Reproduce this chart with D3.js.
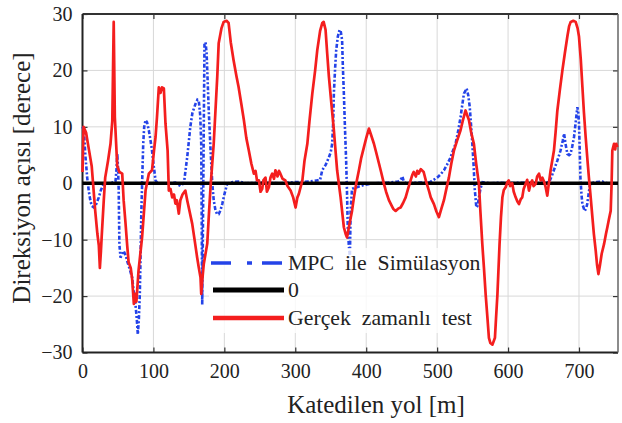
<!DOCTYPE html>
<html><head><meta charset="utf-8">
<script src="https://cdn.jsdelivr.net/npm/d3@7"></script>
<style>
html,body{margin:0;padding:0;background:#fff;}
svg text{font-family:'Liberation Serif','Times New Roman',Times,'DejaVu Serif',serif !important;}
</style></head>
<body><svg id="c" width="622" height="423"></svg>
<script>
// ---- data ----
const xTicks = [0,100,200,300,400,500,600,700];
const yTicks = [-30,-20,-10,0,10,20,30];
const legendLabels = ["MPC  ile  Simülasyon", "0", "Gerçek  zamanlı  test"];
const xLabel = "Katedilen yol [m]";
const yLabel = "Direksiyon açısı [derece]";

const simX = [0,2,4,6.6,9,11,13,16,19,23,26,30,35,39.5,44,46.5,48,49,50,51,52,53.6,56,58,61,63,66,70,72,74.7,76.5,78,79.5,80.8,82,83,84.5,85.6,87,88.9,91,93.5,96,98,100.5,103,106,110,117,124,131,138,143,145,147.6,150,152,155,159.4,162,164,166,167.4,168,168.8,169.5,170,171,172,173.5,175,176.5,178,180.5,183,185,187.6,190,192,194.5,197,200,204,208,212,220,230,250,280,300,320,330,335,338,343,347.4,350,352,353.5,354.4,356,357.7,360,362.5,364,366,367,368.5,370,371.7,373,374,375.5,377,378,380,383,387,397,411,430,445,448.5,451,453,456,470,490,500,505,509.6,514,519,522,526,530,533,535,537.8,541.6,544,546,548,549.6,551.5,553,555.3,557,559,561,564,575,590,600,620,640,658,662,666,669.5,672,674,677,679,681,683.6,686,688,690.5,693,695.5,697.7,699,700,701,702,703.5,704.8,708,710,711.6,714,716,725,733,740];
const simY = [10,9.4,5,1,-1.5,-3,-4,-4.3,-3.8,-2.5,-1.2,-0.1,0,0,0.2,0.3,2.5,5.2,3,-1,-10.8,-13.2,-12.5,-12,-12.8,-13.8,-15,-16.7,-19,-21.5,-24,-26.8,-24,-19.7,-12,-4.9,2,7,10,11.2,10.8,9.4,7.5,5.8,3,0.5,0,0,0,0,0.1,-0.5,0,2,4.6,7.5,10,12.5,14.1,14.8,14.6,12,7,-5,-21.5,-12,-4.9,10,24.8,25,23,18,12.9,6,-0.1,-3,-4.9,-5.5,-5.5,-4.8,-3.7,-2,-0.1,0.1,0.2,0.3,0,0.1,0,0.2,0.3,0.5,0.6,2.3,3.3,4.6,5.5,7,11,15.9,20,23.6,26,27.2,27,25.4,21,15.9,10,4,-2,-7.8,-11,-13.2,-4.9,-1,-0.8,-0.7,-0.3,0,0.1,0.3,0.6,1.2,0.3,0,0.1,0.2,1,1.6,2.3,3.3,4.6,5.7,7,9.5,11.7,13.5,15.9,16.8,15.5,13.5,10,7,3,-1,-4.3,-4,-2.5,-1,0.2,0,0.1,0,0.1,0,0.2,1.4,2.8,4,5,5.8,7.5,8.8,7,5.2,5,5.2,6.5,8.2,11,13.5,12.5,10.6,6,1,-2,-3.7,-4.9,-4.5,-3.7,-1.5,0,0.2,0.3,0];

const zeroX = [0,755];
const zeroY = [0,0];

const testX = [0,1.5,5,9,13,18,21,23,24.5,26,27,30,32,36,39.5,42,44,45.6,49,52,56,58,60.6,63,65,68,70,72.4,74.7,76,79,84,88.9,93.5,98,101,103,105,107.6,110,112,114.7,117,120,121.7,124,126.5,129,131,133,135.8,138,141,145,147.6,151,154.7,158,161.7,164,166.4,167.4,169,171,175.9,178,180.5,185,190,192,196,199,203,206,209,213,217,220,224,227.5,231,234.5,238,241.6,244,246,248.7,251,253.4,255,258,260,262.8,265,267.5,270,272,275,277,279,282,286,289,293.4,297,300.4,303,305,310,313,317,320,324,328,331,335,338,340,342.7,345,347.4,351,354.4,359,363.9,368.5,371,373,376,380,382.7,386,389.7,393,396.8,400,403.8,407,410.9,414,418,421,425,428,432,436,438,441.5,445,448.5,452,455.6,459,462.6,465,467,470,472,474,477,481,484,488.4,491,495.5,499,502.5,506,509.6,513,516.6,520,523.7,528,533,536,540,542,544.8,548,551.8,555,558.9,561,563.7,566,568.4,571,573,575,578,581.5,583,585,588,590,592,594,596.6,599,601,603,605.8,608,610.7,613,615.4,618,620,622,624.8,627,629.5,632,634,636,639,641,643.6,646,648.3,651,653,655.3,657,660,664.7,667,669.5,673,676.6,680,683.6,686,688.3,692,695.3,698,700,702.5,704.8,707,709.4,712,714,716.5,718.9,721,723.6,725.5,727.4,729.6,732,735.3,738,740,742,744.7,746,747,749.4,751,752.5,754];
const testY = [2,10,9,6,3,-5,-9,-11,-15,-12,-9.6,-3,1,4,7,11,28.6,11.7,3,2,1.7,-3,-7,-11,-14,-15,-17,-21.4,-19.6,-21,-15.5,-9.6,-1.3,1.7,2.3,6,8.2,11.7,17,16,17,16.8,10.6,5.8,-1.3,-1,-2.5,-2,-3.6,-3,-5.4,-3,-2,-1.3,-3,-5,-7.2,-10,-13.2,-15,-16.7,-19.6,-17,-14.3,-10.7,-6,-0.7,7,18.9,24.8,27.5,28.6,28.8,28.4,25,21.8,19,17.1,14,11.2,8,5.8,3.5,1.7,2.2,0.5,0.5,-1.5,-1,0.5,1,-1.5,-0.7,1,1.7,0.8,2.3,1.2,2.2,1.7,0.8,0.5,-0.5,-1.3,-2.5,-4.3,-2.5,-1.9,0.5,4,7,11,15.9,20,23.6,27,28.4,28.6,27.2,23,18.9,14,9.4,2.3,-2.5,-7.8,-9,-9.6,-7.5,-4.9,-2.5,0,2.3,4.5,6.4,8,9.7,8.5,7,5.5,3.5,2,-0.1,-1.5,-3,-4,-4.5,-4.9,-4.5,-4.3,-3.5,-2.5,-1,0.5,1.5,2,1.2,2.2,1.7,2.5,2,0.5,-1.3,-2.5,-3.7,-5,-6,-4.5,-3,-1,1,3.5,5.8,7.5,9.4,11,12.9,12.2,11.2,9,7,3.5,-0.1,-5,-10.8,-15,-19.7,-24,-27.4,-28.3,-28.6,-27.4,-24,-19.7,-10.8,-6,-2.5,-1.2,-0.7,0.2,0.5,-0.5,0,-1.5,-2.5,-3.2,-3.7,-2.8,-2.5,-1,-0.1,0.6,-1.3,0,0.5,-0.5,-0.1,1.2,1.7,0.5,1,0.2,-0.7,-2.2,-0.5,2.3,5.8,9,12.9,16.5,20,23,26,27.8,28.6,28.8,28.6,27.5,26,22,17.1,12.5,8.2,4,1,-2.5,-6,-9,-12,-14.5,-16.1,-14.5,-12.5,-10.8,-9,-7.8,-6.5,-4.9,0,5.8,7,6,7,6.4];

// ---- chart ----
const FONT = "'Liberation Serif','Times New Roman',Times,'DejaVu Serif',serif";
const svg = d3.select("#c");
const L = 82.5, R = 618, T = 14, B = 352.5;
const x = d3.scaleLinear().domain([0,755]).range([L,R]);
const y = d3.scaleLinear().domain([-30,30]).range([B,T]);

// grid
const grid = svg.append("g").attr("stroke","#d8d8d8").attr("stroke-width",1);
grid.selectAll(".gx").data(xTicks.filter(d=>d>0)).join("line")
  .attr("x1",d=>x(d)).attr("x2",d=>x(d)).attr("y1",T).attr("y2",B);
grid.selectAll(".gy").data(yTicks.filter(d=>d>-30&&d<30)).join("line")
  .attr("x1",L).attr("x2",R).attr("y1",d=>y(d)).attr("y2",d=>y(d));

const tickFont = 20;
function styleAxis(g){
  g.attr("font-family", FONT);
  g.select(".domain").remove();
  g.selectAll(".tick line").attr("stroke","#333").attr("stroke-width",1.2);
  g.selectAll("text").attr("font-size",tickFont).attr("fill","#222").style("font-family",FONT);
}
svg.append("g").attr("transform",`translate(0,${B})`)
  .call(d3.axisBottom(x).tickValues(xTicks).tickSizeInner(-5).tickSizeOuter(0).tickPadding(11))
  .call(styleAxis);
svg.append("g").attr("transform",`translate(0,${T})`)
  .call(d3.axisTop(x).tickValues(xTicks).tickSizeInner(-5).tickSizeOuter(0).tickFormat(""))
  .call(styleAxis);
svg.append("g").attr("transform",`translate(${L},0)`)
  .call(d3.axisLeft(y).tickValues(yTicks).tickSizeInner(-5).tickSizeOuter(0).tickPadding(10))
  .call(styleAxis);
svg.append("g").attr("transform",`translate(${R},0)`)
  .call(d3.axisRight(y).tickValues(yTicks).tickSizeInner(-5).tickSizeOuter(0).tickFormat(""))
  .call(styleAxis);

// frame
svg.append("line").attr("x1",L).attr("x2",R).attr("y1",T).attr("y2",T).attr("stroke","#333").attr("stroke-width",2);
svg.append("line").attr("x1",L).attr("x2",R).attr("y1",B).attr("y2",B).attr("stroke","#222").attr("stroke-width",2);
svg.append("line").attr("x1",L).attr("x2",L).attr("y1",T).attr("y2",B).attr("stroke","#222").attr("stroke-width",2);
svg.append("line").attr("x1",R).attr("x2",R).attr("y1",T).attr("y2",B).attr("stroke","#666").attr("stroke-width",1.5);

// lines
const line = d3.line().x(d=>x(d[0])).y(d=>y(d[1]));
const simData = simX.map((v,i)=>[v,simY[i]]);
const zeroData = zeroX.map((v,i)=>[v,zeroY[i]]);
const testData = testX.map((v,i)=>[v,testY[i]]);

const plot = svg.append("g");
plot.append("path").datum(simData).attr("d",line).attr("fill","none")
  .attr("stroke","#2443e8").attr("stroke-width",2.6).attr("stroke-dasharray","4,2,2,2");
plot.append("path").datum(zeroData).attr("d",line).attr("fill","none")
  .attr("stroke","#000").attr("stroke-width",3.5);
plot.append("path").datum(testData).attr("d",line).attr("fill","none")
  .attr("stroke","#f41e1e").attr("stroke-width",2.7).attr("stroke-linejoin","round");

// legend
const leg = svg.append("g");
leg.append("rect").attr("x",209).attr("y",248).attr("width",272).attr("height",85)
  .attr("fill","#fff").attr("fill-opacity",0.8);
const rows = [
  {y:263, stroke:"#2443e8", w:3.5, dash:"20,16,5,10", x1:211},
  {y:290, stroke:"#000", w:5, dash:null, x1:213},
  {y:318, stroke:"#f41e1e", w:4.5, dash:null, x1:213}
];
rows.forEach((r,i)=>{
  leg.append("line").attr("x1",r.x1).attr("x2",284).attr("y1",r.y).attr("y2",r.y)
    .attr("stroke",r.stroke).attr("stroke-width",r.w).attr("stroke-dasharray",r.dash);
  leg.append("text").attr("transform",`translate(288,${r.y}) scale(1.09,1)`)
    .attr("dy","0.35em").attr("font-size",20).attr("fill","#222")
    .style("white-space","pre").text(legendLabels[i]);
});

// axis labels
svg.append("text").attr("x",376).attr("y",413).attr("text-anchor","middle")
  .attr("font-size",25).attr("fill","#222").text(xLabel);
svg.append("text").attr("transform","translate(30,178) rotate(-90)").attr("text-anchor","middle")
  .attr("font-size",25).attr("fill","#222").text(yLabel);
</script></body></html>
